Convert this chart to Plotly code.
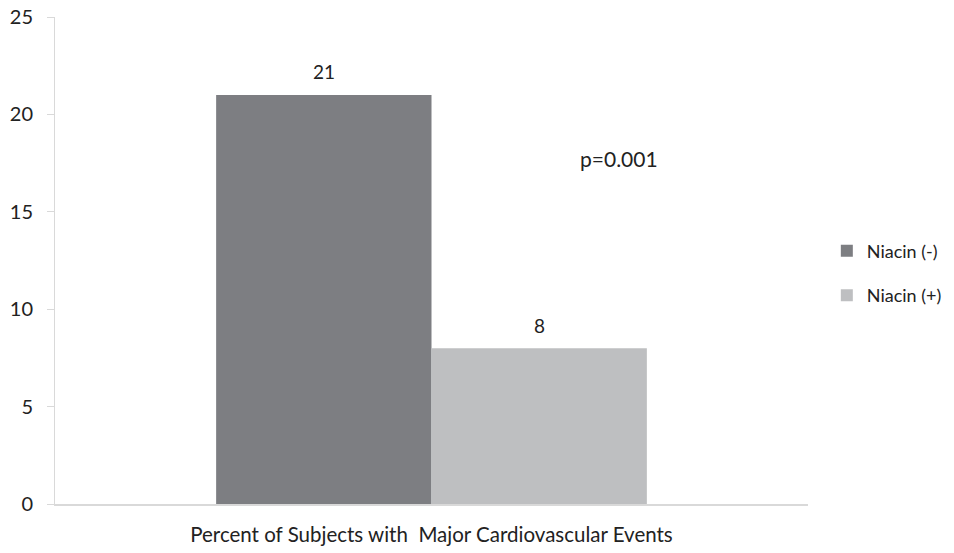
import plotly.graph_objects as go

# Outcome category and the two treatment groups
category = ["Percent of Subjects with  Major Cardiovascular Events"]
groups = ["Niacin (-)", "Niacin (+)"]
values = [21, 8]
colors = ["#7d7e82", "#bebfc1"]

y_ticks = [0, 5, 10, 15, 20, 25]
p_label = "p=0.001"

FONT = "Lato, 'Open Sans', sans-serif"
TEXT = "#222222"

fig = go.Figure()
for name, val, col in zip(groups, values, colors):
    fig.add_trace(go.Bar(
        x=category,
        y=[val],
        name=name,
        legendgroup=name,
        marker=dict(color=col, line=dict(width=0)),
    ))

# value labels above each bar (bars are ~215 px wide, side by side)
for i, val in enumerate(values):
    fig.add_annotation(
        x=category[0], xref="x", y=val, yref="y",
        xshift=(i - 0.5) * 215, yshift=23,
        text=str(val), showarrow=False,
        font=dict(size=19, color=TEXT, family=FONT),
    )

fig.add_annotation(
    x=0.749, xref="paper", y=17.76, yref="y",
    xanchor="center", yanchor="middle",
    text=p_label, showarrow=False,
    font=dict(size=21, color=TEXT, family=FONT),
)

fig.update_layout(
    width=954, height=553,
    margin=dict(l=55, r=146, t=17, b=49, autoexpand=False),
    plot_bgcolor="white", paper_bgcolor="white",
    barmode="group",
    bargap=0.428,
    bargroupgap=0,
    font=dict(family=FONT, size=18, color=TEXT),
    showlegend=True,
    legend=dict(
        x=1.025, xanchor="left", y=0.474, yanchor="middle",
        font=dict(size=18, color=TEXT, family=FONT),
        tracegroupgap=18,
        itemwidth=30,
    ),
    xaxis=dict(
        showline=True, linecolor="#d9d9d9", linewidth=2,
        ticks="", showgrid=False,
        ticklabelstandoff=11,
        tickfont=dict(size=20.5, color=TEXT, family=FONT),
    ),
    yaxis=dict(
        range=[0, 25], tickvals=y_ticks,
        showline=True, linecolor="#d9d9d9", linewidth=1,
        ticks="outside", ticklen=7, tickcolor="#d9d9d9",
        ticklabelstandoff=10,
        showgrid=False, zeroline=False,
        tickfont=dict(size=20, color=TEXT, family=FONT),
    ),
)

fig.write_html("out.html")
